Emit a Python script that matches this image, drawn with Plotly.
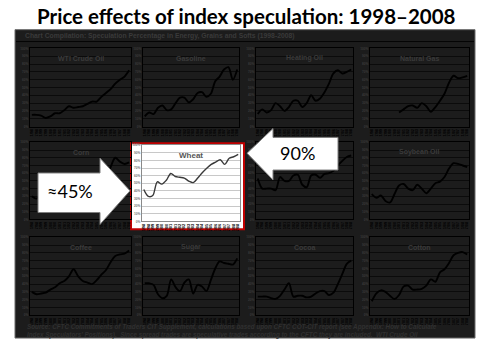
import plotly.graph_objects as go

W, H = 490, 345

# ---------------- data ----------------
dates = ["1/98", "7/98", "1/99", "7/99", "1/00", "7/00", "1/01", "7/01", "1/02", "7/02", "1/03",
         "7/03", "1/04", "7/04", "1/05", "7/05", "1/06", "7/06", "1/07", "7/07", "1/08", "7/08"]

wti = [15, 15, 14, 11, 13, 17, 17, 21, 26, 24, 25, 26, 29, 32, 32, 38, 43, 48, 55, 60, 64, 72]
gasoline = [13, 18, 16, 24, 27, 21, 22, 30, 37, 37, 31, 35, 43, 44, 38, 42, 58, 64, 73, 76, 60, 73]
heating_oil = [16, 22, 18, 21, 30, 26, 20, 25, 33, 33, 25, 30, 40, 33, 36, 44, 55, 68, 72, 68, 70, 73]
natural_gas = [None, None, None, None, None, None, 18, 22, 26, 27, 24, 30, 26, 19, 25, 33, 42, 56, 65, 62, 63, 65]
corn = [30, 27, 33, 28, 35, 40, 38, 45, 42, 40, 45, 50, 47, 52, 55, 60, 55, 68, 80, 75, 72, 74]
wheat = [42, 33, 34, 52, 49, 54, 63, 59, 58, 57, 53, 51, 57, 64, 70, 75, 78, 81, 75, 83, 85, 88]
soybeans = [53, 40, 40, 40, 38, 55, 50, 50, 57, 58, 45, 42, 57, 58, 54, 59, 60, 63, 70, 76, 81, 83]
soybean_oil = [33, 28, 31, 24, 22, 33, 44, 46, 40, 38, 45, 40, 34, 40, 47, 49, 55, 66, 73, 72, 70, 68]
coffee = [30, 27, 28, 29, 33, 36, 41, 44, 50, 59, 50, 44, 42, 40, 45, 52, 58, 68, 76, 78, 79, 83]
sugar = [41, 41, 39, 27, 22, 25, 46, 36, 31, 42, 46, 28, 39, 37, 31, 45, 60, 69, 67, 66, 65, 73]
cocoa = [24, 24, 24, 22, 21, 25, 33, 41, 24, 25, 25, 23, 24, 28, 31, 31, 26, 29, 40, 53, 66, 70]
cotton = [18, 28, 32, 30, 25, 21, 26, 37, 38, 33, 33, 34, 38, 46, 43, 55, 59, 67, 77, 80, 81, 78]

y_ticks = [0, 10, 20, 30, 40, 50, 60, 70, 80, 90, 100]
y_labels = ["0%", "10%", "20%", "30%", "40%", "50%", "60%", "70%", "80%", "90%", "100%"]

title_text = "<b>Price effects of index speculation: 1998–2008</b>"
header_text = "Chart Compilation: Speculation Percentage in Energy, Grains and Softs (1998-2008)"
source_1 = "Source: CFTC Commitments of Traders CIT Supplement, calculations based upon CFTC COT-CIT report (see Appendix: How to Calculate"
source_2 = "Index Speculators' Positions).  Since spread trades are speculative trades according to the CFTC they are included.  WTI Crude Oil"

# ---------------- styles ----------------
PANEL = "#1c1c1c"
DARK_TXT = "#3a3a3a"
GRID_D = "#0b0b0b"


def px(x):
    return x / W


def py(y):
    return 1 - y / H


# (title, values, box in px (x0, x1, y_top, y_bottom), highlighted)
charts = [
    ("WTI Crude Oil", wti, (30, 131, 47, 126), False),
    ("Gasoline", gasoline, (143, 239, 47, 126), False),
    ("Heating Oil", heating_oil, (256, 353, 47, 126), False),
    ("Natural Gas", natural_gas, (370, 469, 47, 126), False),
    ("Corn", corn, (30, 131, 142, 220), False),
    ("Wheat", wheat, (142, 240, 145, 222), True),
    ("", soybeans, (256, 353, 142, 220), False),
    ("Soybean Oil", soybean_oil, (370, 469, 142, 220), False),
    ("Coffee", coffee, (30, 131, 238, 317), False),
    ("Sugar", sugar, (143, 239, 238, 317), False),
    ("Cocoa", cocoa, (256, 353, 238, 317), False),
    ("Cotton", cotton, (370, 469, 238, 317), False),
]

fig = go.Figure()
shapes = []
annotations = []

# dark panel
shapes.append(dict(type="rect", xref="paper", yref="paper", x0=px(15), x1=px(475), y0=py(340), y1=py(28),
                   fillcolor=PANEL, line=dict(color="#6a6a6a", width=1), layer="below"))
shapes.append(dict(type="line", xref="paper", yref="paper", x0=px(16), x1=px(474), y0=py(40), y1=py(40),
                   line=dict(color="#050505", width=1), layer="below"))
# highlighted wheat box
shapes.append(dict(type="rect", xref="paper", yref="paper", x0=px(131), x1=px(244), y0=py(230), y1=py(143),
                   fillcolor="#ffffff", line=dict(color="#c00000", width=2), layer="below"))

xs = list(range(len(dates)))
for k, (name, vals, box, hi) in enumerate(charts, start=1):
    x0, x1, yt, yb = box
    sfx = "" if k == 1 else str(k)
    fig.add_trace(go.Scatter(
        x=xs, y=vals, mode="lines",
        line=dict(shape="spline", smoothing=0.9, color="#3a3a3a" if hi else "#000000",
                  width=1.4 if hi else 1.9),
        xaxis="x" + sfx, yaxis="y" + sfx, showlegend=False, hoverinfo="skip"))
    fig.layout["xaxis" + sfx] = dict(
        domain=[px(x0), px(x1)], anchor="y" + sfx, range=[-0.4, len(dates) - 0.6],
        tickmode="array", tickvals=xs, ticktext=dates, tickangle=-90,
        tickfont=dict(size=3.8, color="#000000", family="Arial", weight="bold"),
        showgrid=False, zeroline=False, showline=True, mirror=True,
        linecolor="#8a8a8a" if hi else "#000000", linewidth=1, ticks="", fixedrange=True)
    fig.layout["yaxis" + sfx] = dict(
        domain=[py(yb), py(yt)], anchor="x" + sfx, range=[0, 100],
        tickmode="array", tickvals=y_ticks, ticktext=y_labels,
        tickfont=dict(size=3.2, color="#7a7a7a" if hi else DARK_TXT, family="Arial", weight="bold"),
        showgrid=True, gridcolor="#c8c8c8" if hi else GRID_D, gridwidth=1,
        zeroline=False, showline=True, mirror=True,
        linecolor="#8a8a8a" if hi else "#000000", linewidth=1, ticks="", fixedrange=True)
    if name:
        ty = yt + 10
        annotations.append(dict(
            x=px((x0 + x1) / 2), y=py(ty), xref="paper", yref="paper",
            xanchor="center", yanchor="middle",
            text="<b>%s</b>" % name, showarrow=False,
            font=dict(family="Arial", size=8 if hi else 7, color="#555555" if hi else DARK_TXT)))

# arrows
shapes.append(dict(type="path", xref="paper", yref="paper",
                   path="M {},{} L {},{} L {},{} L {},{} L {},{} L {},{} L {},{} Z".format(
                       px(38), py(173), px(100), py(173), px(100), py(158), px(130), py(191),
                       px(100), py(225), px(100), py(213), px(38), py(213)),
                   fillcolor="#ffffff", line=dict(color="#7f7f7f", width=1), layer="above"))
shapes.append(dict(type="path", xref="paper", yref="paper",
                   path="M {},{} L {},{} L {},{} L {},{} L {},{} L {},{} L {},{} Z".format(
                       px(247), py(153), px(273), py(128), px(273), py(137), px(338), py(137),
                       px(338), py(170), px(273), py(170), px(273), py(180)),
                   fillcolor="#ffffff", line=dict(color="#7f7f7f", width=1), layer="above"))

annotations += [
    dict(x=px(246), y=py(14), xref="paper", yref="paper", text=title_text, showarrow=False,
         xanchor="center", yanchor="middle",
         font=dict(family="Lato", size=20.5, color="#000000")),
    dict(x=px(23), y=py(34), xref="paper", yref="paper", text="<b>%s</b>" % header_text, showarrow=False,
         xanchor="left", yanchor="middle", font=dict(family="Arial", size=6.8, color=DARK_TXT)),
    dict(x=px(25), y=py(329), xref="paper", yref="paper", text="<b><i>%s</i></b>" % source_1, showarrow=False,
         xanchor="left", yanchor="middle", font=dict(family="Arial", size=6.3, color="#303030")),
    dict(x=px(25), y=py(337), xref="paper", yref="paper", text="<b><i>%s</i></b>" % source_2, showarrow=False,
         xanchor="left", yanchor="middle", font=dict(family="Arial", size=6.3, color="#303030")),
    dict(x=px(70), y=py(191), xref="paper", yref="paper", text="≈45%", showarrow=False,
         xanchor="center", yanchor="middle",
         font=dict(family="Lato", size=18, color="#000000")),
    dict(x=px(297), y=py(153), xref="paper", yref="paper", text="90%", showarrow=False,
         xanchor="center", yanchor="middle",
         font=dict(family="Lato", size=18, color="#000000")),
]

fig.update_layout(
    width=W, height=H, autosize=False, margin=dict(l=0, r=0, t=0, b=0),
    paper_bgcolor="#ffffff", plot_bgcolor="rgba(0,0,0,0)",
    shapes=shapes, annotations=annotations, showlegend=False,
)

fig.write_html("out.html", config={"displayModeBar": False, "staticPlot": True})
